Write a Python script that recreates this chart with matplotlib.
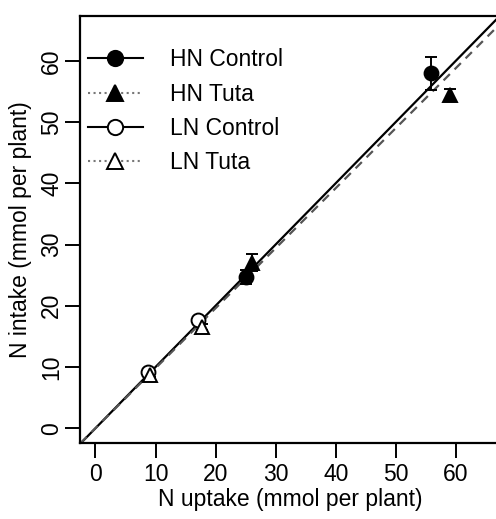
import numpy as np
import matplotlib
matplotlib.use('Agg')
import matplotlib.pyplot as plt

plt.rcParams['font.family'] = ['Liberation Sans', 'DejaVu Sans']

# N uptake vs N intake, two harvests per group
hn_ctrl_x = [25.1, 55.9]
hn_ctrl_y = [24.7, 58.0]
hn_ctrl_err = [1.2, 2.7]
hn_tuta_x = [26.1, 59.1]
hn_tuta_y = [27.0, 54.4]
hn_tuta_err = [1.4, 1.0]
ln_ctrl_x = [8.7, 17.0]
ln_ctrl_y = [9.1, 17.6]
ln_ctrl_err = [0.4, 0.5]
ln_tuta_x = [9.0, 17.7]
ln_tuta_y = [8.7, 16.5]
ln_tuta_err = [0.4, 0.5]

fit_slope = 0.98
fit_icpt = 0.0

fs = 16.5

fig = plt.figure(figsize=(4.96, 5.19), dpi=100)
ax = fig.add_axes([0.161, 0.146, 0.85, 0.823])

ax.axline((0, 0), slope=1, color='black', lw=1.6, zorder=1)
ax.axline((0, fit_icpt), slope=fit_slope, color='#555555', lw=1.6, ls=(0, (4, 3)), zorder=1)

ms = 10
for xs, ys, es, mk, fc, ls, lab in [
        (hn_ctrl_x, hn_ctrl_y, hn_ctrl_err, 'o', 'black', '-', 'HN Control'),
        (hn_tuta_x, hn_tuta_y, hn_tuta_err, '^', 'black', ':', 'HN Tuta'),
        (ln_ctrl_x, ln_ctrl_y, ln_ctrl_err, 'o', 'white', '-', 'LN Control'),
        (ln_tuta_x, ln_tuta_y, ln_tuta_err, '^', 'white', ':', 'LN Tuta')]:
    ax.errorbar(xs, ys, yerr=es, fmt='none', ecolor='black', elinewidth=1.4, capsize=4, capthick=1.4, zorder=2)
    ax.plot(xs, ys, ls='none', marker=mk, ms=ms, mfc=fc, mec='black', mew=1.4, zorder=3)
    lc = 'black' if ls == '-' else '#777777'
    ax.plot([], [], ls=ls, color=lc, lw=1.5, marker=mk, ms=11, mfc=fc, mec='black', mew=1.4, label=lab)

ax.set_xlim(-2.6, 67.6)
ax.set_ylim(-2.45, 67.3)
ax.set_xticks([0, 10, 20, 30, 40, 50, 60])
ax.set_yticks([0, 10, 20, 30, 40, 50, 60])
ax.tick_params(direction='out', length=11, width=1.4, labelsize=fs, pad=3)
ax.tick_params(axis='y', pad=1)
for t in ax.get_yticklabels():
    t.set_rotation(90)
    t.set_va('center')
for s in ax.spines.values():
    s.set_linewidth(1.6)

ax.set_xlabel('N uptake (mmol per plant)', fontsize=fs, labelpad=2)
ax.set_ylabel('N intake (mmol per plant)', fontsize=fs, labelpad=6)

ax.legend(loc='upper left', bbox_to_anchor=(0.019, 0.925), frameon=False, fontsize=fs,
          handlelength=2.4, handletextpad=1.2, labelspacing=0.5, borderaxespad=0, borderpad=0)

fig.savefig('out.png', dpi=100)
